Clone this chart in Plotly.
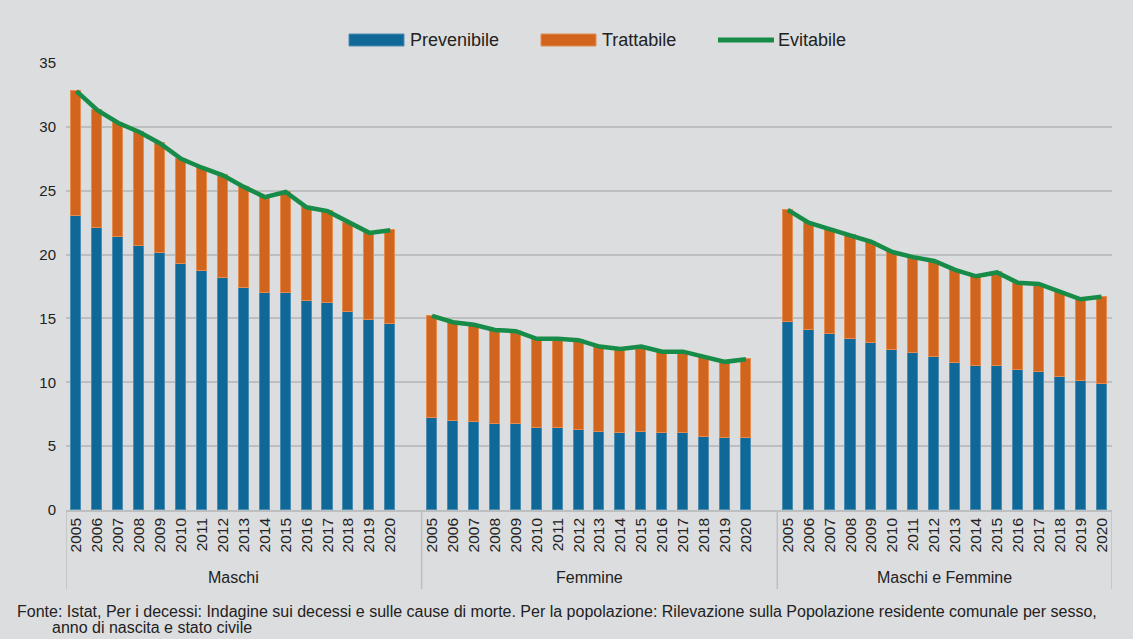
import plotly.graph_objects as go

# ── Data ──────────────────────────────────────────────────────────────────────
anni = [str(a) for a in range(2005, 2021)]
gruppi = ["Maschi", "Femmine", "Maschi e Femmine"]
serie = ["Prevenibile", "Trattabile", "Evitabile"]

maschi_prev = [23.0, 22.1, 21.4, 20.7, 20.1, 19.3, 18.7, 18.2, 17.4, 17.0, 17.0, 16.4, 16.2, 15.5, 14.9, 14.6]
maschi_trat = [9.8, 9.2, 8.9, 8.9, 8.6, 8.2, 8.1, 8.0, 7.9, 7.5, 7.9, 7.3, 7.2, 7.0, 6.8, 7.3]
maschi_evit = [32.8, 31.3, 30.3, 29.6, 28.7, 27.5, 26.8, 26.2, 25.3, 24.5, 24.9, 23.7, 23.4, 22.5, 21.7, 21.9]

femmine_prev = [7.2, 7.0, 6.9, 6.7, 6.7, 6.4, 6.4, 6.3, 6.1, 6.0, 6.1, 6.0, 6.0, 5.7, 5.6, 5.6]
femmine_trat = [8.0, 7.7, 7.6, 7.4, 7.3, 7.0, 7.0, 7.0, 6.7, 6.6, 6.7, 6.4, 6.4, 6.3, 6.0, 6.2]
femmine_evit = [15.2, 14.7, 14.5, 14.1, 14.0, 13.4, 13.4, 13.3, 12.8, 12.6, 12.8, 12.4, 12.4, 12.0, 11.6, 11.8]

mf_prev = [14.7, 14.1, 13.8, 13.4, 13.1, 12.5, 12.3, 12.0, 11.5, 11.3, 11.3, 11.0, 10.8, 10.4, 10.1, 9.9]
mf_trat = [8.8, 8.4, 8.2, 8.1, 7.9, 7.7, 7.5, 7.5, 7.3, 7.0, 7.3, 6.8, 6.9, 6.7, 6.4, 6.8]
mf_evit = [23.5, 22.5, 22.0, 21.5, 21.0, 20.2, 19.8, 19.5, 18.8, 18.3, 18.6, 17.8, 17.7, 17.1, 16.5, 16.7]

fonte = ("Fonte: Istat, Per i decessi: Indagine sui decessi e sulle cause di morte. "
         "Per la popolazione: Rilevazione sulla Popolazione residente comunale per sesso,")
fonte2 = "anno di nascita e stato civile"

# ── Style ─────────────────────────────────────────────────────────────────────
COL = {
    "prev": "#0F6897",
    "prev_edge": "#4C8DB3",
    "trat": "#D2651E",
    "trat_edge": "#E48C52",
    "evit": "#178B48",
    "bg": "#DCDDDF",
    "grid": "#BDBEC0",
    "text": "#222222",
}
FONT = "Liberation Sans, Arial, sans-serif"

W, H = 1133, 639
ML, MR, MT, MB = 66, 21, 63, 129
PW, PH = W - ML - MR, H - MT - MB


def px(x):  # pixel -> paper x
    return (x - ML) / PW


def py(y):  # pixel -> paper y
    return (H - MB - y) / PH


# one blank slot after each group, as in the original category axis
SLOT = len(anni) + 1
prev, trat, evit, xs = [], [], [], []
for g, (p, t, e) in enumerate([(maschi_prev, maschi_trat, maschi_evit),
                               (femmine_prev, femmine_trat, femmine_evit),
                               (mf_prev, mf_trat, mf_evit)]):
    xs += [g * SLOT + i for i in range(len(anni))]
    prev += p
    trat += t
    evit += e
    if g < len(gruppi) - 1:
        xs.append(g * SLOT + len(anni))
        prev.append(None)
        trat.append(None)
        evit.append(None)

tickvals = [x for x, v in zip(xs, prev) if v is not None]
ticktext = anni * len(gruppi)

fig = go.Figure()
fig.add_trace(go.Bar(
    x=xs, y=prev, name=serie[0], width=0.48,
    marker=dict(color=COL["prev"], line=dict(color=COL["prev_edge"], width=1)),
))
fig.add_trace(go.Bar(
    x=xs, y=trat, name=serie[1], width=0.48,
    marker=dict(color=COL["trat"], line=dict(color=COL["trat_edge"], width=1)),
))
fig.add_trace(go.Scatter(
    x=xs, y=evit, name=serie[2], mode="lines",
    line=dict(color=COL["evit"], width=4.5), connectgaps=False,
))

x_lo, x_hi = -0.5, len(xs) - 0.5
fig.update_layout(
    barmode="stack",
    width=W, height=H,
    paper_bgcolor=COL["bg"],
    plot_bgcolor=COL["bg"],
    font=dict(family=FONT, size=15, color=COL["text"]),
    margin=dict(l=ML, r=MR, t=MT, b=MB),
    showlegend=False,
    bargap=0,
)
fig.update_yaxes(
    range=[0, 35], dtick=5, showgrid=True, gridcolor=COL["grid"], gridwidth=1.5,
    zeroline=False, showline=False, ticks="", ticklabelstandoff=9,
    tickfont=dict(size=15, family=FONT),
)
fig.update_xaxes(
    range=[x_lo, x_hi], tickmode="array", tickvals=tickvals, ticktext=ticktext,
    tickangle=-90, tickfont=dict(size=15.5, family=FONT), showgrid=False,
    zeroline=False, showline=True, linecolor=COL["grid"], linewidth=1.5, ticks="",
)

# group separators and labels below the axis
for xb in [x_lo, SLOT - 0.5, 2 * SLOT - 0.5, x_hi]:
    fig.add_shape(type="line", xref="x", yref="paper", x0=xb, x1=xb, y0=0, y1=py(589),
                  line=dict(color=COL["grid"], width=1.5))
for g, nome in enumerate(gruppi):
    fig.add_annotation(x=g * SLOT + (len(anni) - 1) / 2, y=py(577), xref="x", yref="paper",
                       text=nome, showarrow=False, yanchor="middle",
                       font=dict(family=FONT, size=16, color=COL["text"]))

# legend drawn by hand to get the wide swatches of the original
leg_y = 40
for (x0, x1, kind, col, edge), nome, tx in zip(
        [(349, 404, "rect", COL["prev"], COL["prev_edge"]),
         (541, 596, "rect", COL["trat"], COL["trat_edge"]),
         (718, 774, "line", COL["evit"], None)],
        serie, [408, 600, 776]):
    if kind == "rect":
        fig.add_shape(type="rect", xref="paper", yref="paper",
                      x0=px(x0), x1=px(x1), y0=py(leg_y - 6), y1=py(leg_y + 6),
                      fillcolor=col, line=dict(color=edge, width=1))
    else:
        fig.add_shape(type="line", xref="paper", yref="paper",
                      x0=px(x0), x1=px(x1), y0=py(leg_y), y1=py(leg_y),
                      line=dict(color=col, width=5))
    fig.add_annotation(x=px(tx), y=py(leg_y), xref="paper", yref="paper", text=nome,
                       showarrow=False, xanchor="left", yanchor="middle",
                       font=dict(family=FONT, size=18, color=COL["text"]))

fig.add_annotation(x=px(15), y=py(611), xref="paper", yref="paper", text=fonte,
                   showarrow=False, xanchor="left", yanchor="middle",
                   font=dict(family=FONT, size=16, color=COL["text"]))
fig.add_annotation(x=px(50), y=py(627), xref="paper", yref="paper", text=fonte2,
                   showarrow=False, xanchor="left", yanchor="middle",
                   font=dict(family=FONT, size=16, color=COL["text"]))

fig.write_html(
    "out.html",
    config={"displayModeBar": False},
    post_script="document.body.style.margin='0';"
                "document.body.style.background='%s';" % COL["bg"],
)
